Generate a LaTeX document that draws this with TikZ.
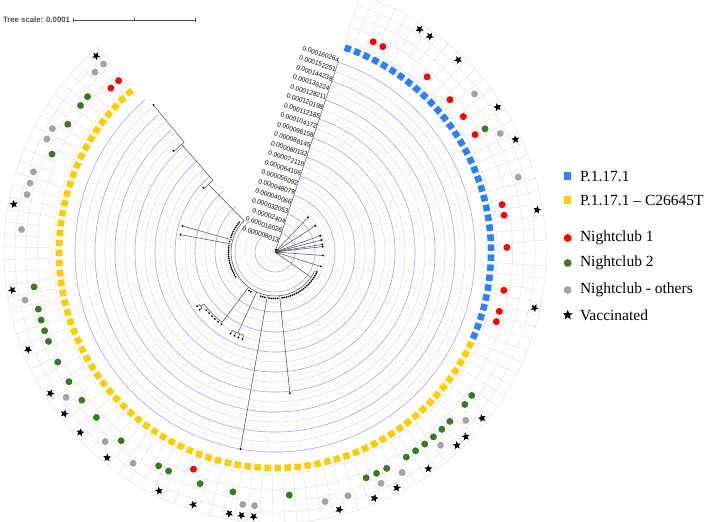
\documentclass[tikz,border=0pt]{standalone}
\usepackage{fontspec}
\setmainfont{Liberation Serif}
\newfontfamily\labelfont{Liberation Sans}
\usetikzlibrary{shapes.geometric}
\definecolor{stripBlue}{HTML}{2B80FF}
\definecolor{stripYellow}{HTML}{FFCC00}
\definecolor{clubRed}{HTML}{FF0000}
\definecolor{clubGreen}{HTML}{3B7A24}
\definecolor{clubGray}{HTML}{A3A3A3}
\definecolor{ringBlue}{HTML}{A0A0FF}
\definecolor{gridLine}{HTML}{E4E4E4}
\definecolor{branchInk}{HTML}{555555}
% angle of leaf #2 on the circle
\newcommand{\leafAngle}[2]{\pgfmathsetmacro#1{70.3-2.66*#2}}

\begin{document}
\begin{tikzpicture}[x=1pt, y=1pt,
  every node/.style={inner sep=0pt, outer sep=0pt},
  stripbox/.style={rectangle, minimum size=6.6pt},
  clubdot/.style={circle, minimum size=7pt},
  vacstar/.style={star, star points=5, star point ratio=2.3, minimum size=8.5pt, fill=black},
  branch/.style={draw=branchInk, line width=0.55pt},
  ringblue/.style={draw=ringBlue, line width=0.6pt},
  ringgray/.style={draw=black!14, line width=0.5pt},
  ringdot/.style={draw=black!35, line width=0.35pt, dotted},
  spoke/.style={draw=black!22, line width=0.3pt, dotted},
  outgrid/.style={draw=gridLine, line width=0.5pt},
  scalelab/.style={font=\labelfont\fontsize{6.5}{7}\selectfont, rotate=-18.4, anchor=south east},
  legtext/.style={font=\fontsize{15.5}{17}\selectfont, anchor=west}
]
\useasboundingbox (0,0) rectangle (708,-521);

% tree scale
\node[font=\labelfont\bfseries\fontsize{7.8}{9}\selectfont, text=black!70, anchor=west] (treescale) at (3,-20) {Tree scale: 0.0001};
\draw[black!70, line width=0.6pt] (73,-20) -- (195,-20);
\draw[black!70, line width=0.6pt] (73,-18) -- (73,-22) (134,-18.5) -- (134,-21.5) (195,-18) -- (195,-22);

\begin{scope}[shift={(275,-252)}]
% guide rings
\foreach \r in {5,15,...,195}
  \draw[ringdot] (71.6:\r) arc[start angle=71.6, end angle=-229.5, radius=\r];
\foreach \r in {10,30,...,190}
  \draw[ringgray] (71.6:\r) arc[start angle=71.6, end angle=-229.5, radius=\r];
\foreach \r in {20,40,...,200}
  \draw[ringblue] (71.6:\r) arc[start angle=71.6, end angle=-229.5, radius=\r];
\foreach \i in {0,...,112} {
  \leafAngle\ang\i
  \draw[spoke] (\ang:55) -- (\ang:205);
}

% outer grid
\foreach \r in {222,237.5,249,260,271}
  \draw[outgrid] (71.6:\r) arc[start angle=71.6, end angle=-229.5, radius=\r];
\foreach \i in {0,...,113} {
  \pgfmathsetmacro\ang{70.3-2.66*\i+1.33}
  \draw[outgrid] (\ang:222) -- (\ang:271);
}

% scale axis
\draw[branchInk, line width=0.5pt] (0,0) -- (71.6:201);
\foreach \k/\val in {1/0.000008013, 2/0.000016026, 3/0.00002404, 4/0.000032053,
  5/0.000040066, 6/0.000048079, 7/0.000056092, 8/0.000064106, 9/0.000072119,
  10/0.000080132, 11/0.000088145, 12/0.000096158, 13/0.000104172, 14/0.000112185,
  15/0.000120198, 16/0.000128211, 17/0.000136224, 18/0.000144238, 19/0.000152251,
  20/0.000160264} {
  \pgfmathsetmacro\rr{10*\k}
  \node[scalelab] (tick\k) at (71.6:\rr) {\val};
}

% lineage strip
\foreach \i in {0,...,35} {
  \leafAngle\ang\i
  \node[stripbox, fill=stripBlue, rotate=\ang] (strip\i) at (\ang:216) {};
}
\foreach \i in {36,...,112} {
  \leafAngle\ang\i
  \node[stripbox, fill=stripYellow, rotate=\ang] (strip\i) at (\ang:216) {};
}

% nightclub 1
\foreach \i in {2,3,8,11,13,15,22,23,26,30,32,33,68,111,112} {
  \leafAngle\ang\i
  \node[clubdot, fill=clubRed] (nca\i) at (\ang:232) {};
}
% nightclub 2
\foreach \i in {15,40,41,43,44,45,46,47,48,50,51,52,59,64,67,70,71,75,78,80,82,84,86,87,88,89,91,103,106,108,109} {
  \leafAngle\ang\i
  \node[clubdot, fill=clubGreen] (ncb\i) at (\ang:243.5) {};
}
% nightclub others
\foreach \i in {12,16,20,42,45,49,51,54,56,62,63,73,76,81,90,96,99,100,101,104,105,111,112} {
  \leafAngle\ang\i
  \node[clubdot, fill=clubGray] (ncc\i) at (\ang:254.5) {};
}
% vaccinated
\foreach \i in {5,6,9,14,17,23,31,41,43,44,47,50,52,55,62,63,64,67,70,75,78,80,82,86,91,98,112} {
  \leafAngle\ang\i
  \node[vacstar, rotate=\ang-90] (vac\i) at (\ang:265.5) {};
}

% P.1.17.1 clade at the root
\foreach \i in {0,...,35} {
  \leafAngle\ang\i
  \fill[black] (\ang:2.5) circle (0.9);
}
\foreach \i in {9,14,19,21,23,24,28,33} {
  \leafAngle\ang\i
  \draw[branch] (0,0) -- (\ang:48);
  \fill[black] (\ang:48) circle (1.1);
}

% C26645T clade
\draw[branch] (0,0) -- (-35:44);
\draw[branch] (-25.4:44) arc[start angle=-25.4, end angle=-225.4, radius=44];
\foreach \i in {36,37,38,39,40,41,42,43,44,45,46,47,48,49,50,51,52,53,54,55,56,57,
  59,60,61,62,63,65,66,67,72,73,82,83,84,85,86,87,88,89,90,91,92,93,94,95,96,97,
  99,101,102,103,104,105,106,107,108,109} {
  \leafAngle\ang\i
  \fill[black] (\ang:46.5) circle (1);
}
\foreach \i/\r in {58/142, 64/200, 98/96, 100/96} {
  \leafAngle\ang\i
  \draw[branch] (\ang:44) -- (\ang:\r);
  \fill[black] (\ang:\r) circle (1.1);
}
% small subclade 68-71
\draw[branch] (-114.6:44) -- (-114.6:89);
\draw[branch] (-110.6:89) arc[start angle=-110.6, end angle=-118.6, radius=89];
\foreach \i in {68,...,71} {
  \leafAngle\ang\i
  \draw[branch] (\ang:89) -- (\ang:93);
  \fill[black] (\ang:93) circle (1);
}
% subclade 74-81
\draw[branch] (-127:44) -- (-127:88);
\draw[branch] (-126.5:88) arc[start angle=-126.5, end angle=-143.8, radius=88];
\foreach \i in {74,...,79} {
  \leafAngle\ang\i
  \fill[black] (\ang:90) circle (1);
}
\draw[branch] (-143.8:88) -- (-143.8:92);
\draw[branch] (-142.5:92) arc[start angle=-142.5, end angle=-145.2, radius=92];
\foreach \i in {80,81} {
  \leafAngle\ang\i
  \draw[branch] (\ang:92) -- (\ang:95);
  \fill[black] (\ang:95) circle (1);
}
% ladder 110-112
\draw[branch] (134.6:44) -- (134.6:95);
\draw[branch] (138.1:95) arc[start angle=138.1, end angle=130.9, radius=95];
\fill[black] (138.1:96.3) circle (1.1);
\draw[branch] (130.9:95) -- (130.9:142.5);
\draw[branch] (135.1:142.5) arc[start angle=135.1, end angle=129.6, radius=142.5];
\fill[black] (135.1:143.5) circle (1.1);
\draw[branch] (129.6:142.5) -- (129.6:190.8);
\fill[black] (129.6:190.8) circle (1.1);
\end{scope}

% legend
\node[stripbox, minimum size=7.5pt, fill=stripBlue] (legBlue) at (567.7,-176) {};
\node[legtext] (legBlueTxt) at (580,-176) {P.1.17.1};
\node[stripbox, minimum size=7.5pt, fill=stripYellow] (legYellow) at (567.7,-200) {};
\node[legtext] (legYellowTxt) at (580,-200) {P.1.17.1 -- C26645T};
\node[clubdot, minimum size=7.8pt, fill=clubRed] (legRed) at (567.7,-238) {};
\node[legtext] (legRedTxt) at (580,-238) {Nightclub 1};
\node[clubdot, minimum size=7.8pt, fill=clubGreen] (legGreen) at (567.7,-263) {};
\node[legtext] (legGreenTxt) at (580,-263) {Nightclub 2};
\node[clubdot, minimum size=7.8pt, fill=clubGray] (legGray) at (567.7,-290) {};
\node[legtext] (legGrayTxt) at (580,-290) {Nightclub - others};
\node[vacstar, minimum size=10.5pt] (legStar) at (567.7,-315) {};
\node[legtext] (legStarTxt) at (580,-315) {Vaccinated};
\end{tikzpicture}
\end{document}
